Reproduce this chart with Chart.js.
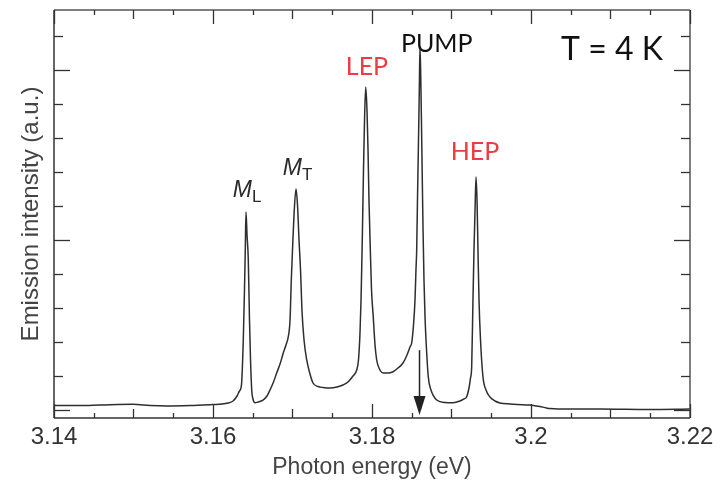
<!DOCTYPE html>
<html>
<head>
<meta charset="utf-8">
<title>Emission spectrum, T = 4 K</title>
<script src="https://cdn.jsdelivr.net/npm/chart.js@4.4.0/dist/chart.umd.min.js"></script>
<style>
  html, body { margin: 0; padding: 0; background: #fff; }
  #wrap { width: 724px; height: 481px; }
</style>
</head>
<body>
<div id="wrap"><canvas id="spectrum" width="724" height="481"></canvas></div>
<script>
// photon energy (eV) and emission intensity (a.u.)
const energy = [
  3.14000, 3.14327, 3.14579, 3.14994, 3.15208, 3.15421, 3.15711, 3.16000, 3.16113, 3.16189,
  3.16252, 3.16302, 3.16333, 3.16358, 3.16381, 3.16396, 3.16406, 3.16415, 3.16428, 3.16444,
  3.16459, 3.16472, 3.16487, 3.16503, 3.16528, 3.16566, 3.16629, 3.16679, 3.16717, 3.16761,
  3.16801, 3.16843, 3.16884, 3.16918, 3.16947, 3.16969, 3.16985, 3.17000, 3.17019, 3.17044,
  3.17063, 3.17082, 3.17101, 3.17119, 3.17145, 3.17179, 3.17220, 3.17258, 3.17321, 3.17384,
  3.17472, 3.17560, 3.17635, 3.17698, 3.17761, 3.17808, 3.17830, 3.17849, 3.17862, 3.17870,
  3.17880, 3.17893, 3.17906, 3.17921, 3.17937, 3.17950, 3.17962, 3.17979, 3.17994, 3.18016,
  3.18038, 3.18059, 3.18088, 3.18142, 3.18201, 3.18264, 3.18327, 3.18390, 3.18440, 3.18478,
  3.18499, 3.18522, 3.18541, 3.18553, 3.18562, 3.18572, 3.18585, 3.18595, 3.18604, 3.18616,
  3.18629, 3.18642, 3.18654, 3.18667, 3.18686, 3.18708, 3.18742, 3.18814, 3.18918, 3.19019,
  3.19107, 3.19157, 3.19191, 3.19220, 3.19239, 3.19254, 3.19270, 3.19283, 3.19296, 3.19308,
  3.19321, 3.19333, 3.19346, 3.19365, 3.19396, 3.19434, 3.19484, 3.19547, 3.19610, 3.19736,
  3.19824, 3.19987, 3.20050, 3.20113, 3.20176, 3.20239, 3.20491, 3.20868, 3.21497, 3.22000
];
const intensity = [
  0.132, 0.132, 0.147, 0.168, 0.132, 0.118, 0.132, 0.162, 0.176, 0.206,
  0.265, 0.412, 0.559, 0.735, 2.059, 3.529, 4.706, 5.824, 5.147, 4.412,
  2.647, 1.471, 0.588, 0.324, 0.215, 0.235, 0.294, 0.412, 0.588, 0.824,
  1.088, 1.353, 1.676, 1.912, 2.156, 2.647, 3.824, 4.706, 5.735, 6.500,
  6.029, 5.000, 4.118, 2.941, 2.059, 1.471, 1.059, 0.794, 0.691, 0.662,
  0.647, 0.676, 0.735, 0.824, 1.000, 1.176, 1.471, 2.265, 3.235, 4.118,
  5.294, 7.059, 8.529, 9.500, 8.824, 7.647, 6.176, 4.706, 3.529, 2.735,
  1.912, 1.471, 1.235, 1.088, 1.088, 1.126, 1.235, 1.382, 1.618, 1.853,
  1.971, 2.500, 3.235, 4.118, 4.706, 6.176, 7.941, 9.412, 10.706, 9.412,
  7.353, 5.294, 3.824, 2.735, 1.765, 0.971, 0.588, 0.294, 0.221, 0.215,
  0.265, 0.324, 0.391, 0.647, 0.941, 1.274, 3.235, 4.706, 5.882, 6.853,
  6.176, 4.706, 3.235, 2.059, 0.971, 0.588, 0.382, 0.265, 0.206, 0.176,
  0.162, 0.147, 0.125, 0.100, 0.070, 0.044, 0.029, 0.029, 0.015, 0.029
];

const xTickLabels = [3.14, 3.16, 3.18, 3.2, 3.22];
const xMinorStep = 0.005;
const yTickValues = [0, 1, 2, 3, 4, 5, 6, 7, 8, 9, 10, 11];
const pumpEnergy = 3.18604;

// peak labels, anchored in data units (centre x, baseline y)
const peakLabels = [
  { text: 'LEP', x: 3.17937, y: 9.85, color: '#ee3a42' },
  { text: 'PUMP', x: 3.18814, y: 10.52, color: '#111' },
  { text: 'HEP', x: 3.19296, y: 7.35, color: '#ee3a42' }
];
// mode labels, anchored at left x, baseline y
const modeLabels = [
  { main: 'M', sub: 'L', x: 3.16248, y: 6.27 },
  { main: 'M', sub: 'T', x: 3.16877, y: 6.91 }
];

const overlay = {
  id: 'overlay',
  afterDraw(chart) {
    const { ctx, chartArea: a, scales: { x, y } } = chart;
    ctx.save();
    const seg = (x1, y1, x2, y2) => { ctx.beginPath(); ctx.moveTo(x1, y1); ctx.lineTo(x2, y2); ctx.stroke(); };

    // frame
    ctx.lineWidth = 1.5;
    ctx.strokeStyle = '#555';
    seg(a.left, a.top, a.right, a.top);
    seg(a.right, a.top, a.right, a.bottom);
    ctx.strokeStyle = '#333';
    seg(a.left, a.top, a.left, a.bottom);
    seg(a.left, a.bottom, a.right, a.bottom);

    // x ticks (inside, top and bottom)
    ctx.lineWidth = 1.3;
    const n = Math.round((x.max - x.min) / xMinorStep);
    for (let i = 0; i <= n; i++) {
      const px = Math.round(x.getPixelForValue(x.min + i * xMinorStep)) + 0.5;
      const len = i % 4 === 0 ? 14 : (i % 2 === 0 ? 9 : 5);
      seg(px, a.bottom, px, a.bottom - len);
      seg(px, a.top, px, a.top + len);
    }
    // y ticks (inside, left and right)
    yTickValues.forEach(v => {
      const py = Math.round(y.getPixelForValue(v)) + 0.5;
      const len = v % 5 === 0 ? 16 : 9;
      seg(a.left, py, a.left + len, py);
      seg(a.right, py, a.right - len, py);
    });

    // pump arrow
    const ax = x.getPixelForValue(pumpEnergy) - 0.5;
    const top = y.getPixelForValue(1.76);
    const tip = y.getPixelForValue(-0.15);
    ctx.strokeStyle = '#222';
    ctx.fillStyle = '#222';
    ctx.lineWidth = 1.5;
    seg(ax, top, ax, tip - 14);
    ctx.beginPath();
    ctx.moveTo(ax - 6, tip - 19);
    ctx.lineTo(ax + 6, tip - 19);
    ctx.lineTo(ax, tip);
    ctx.closePath();
    ctx.fill();

    // peak labels
    ctx.textBaseline = 'alphabetic';
    ctx.textAlign = 'center';
    ctx.font = '25px Lato, "Open Sans", sans-serif';
    peakLabels.forEach(l => {
      ctx.fillStyle = l.color;
      ctx.fillText(l.text, x.getPixelForValue(l.x), y.getPixelForValue(l.y));
    });

    // M_L, M_T
    ctx.textAlign = 'left';
    ctx.fillStyle = '#2a2a2a';
    modeLabels.forEach(l => {
      const px = x.getPixelForValue(l.x);
      const py = y.getPixelForValue(l.y);
      ctx.font = 'italic 23px "Liberation Sans", Arial, sans-serif';
      ctx.fillText(l.main, px, py);
      const w = ctx.measureText(l.main).width;
      ctx.font = '17px "Liberation Sans", Arial, sans-serif';
      ctx.fillText(l.sub, px + w, py + 5);
    });

    // temperature
    ctx.textAlign = 'center';
    ctx.fillStyle = '#111';
    ctx.font = '32px Lato, "Open Sans", sans-serif';
    ctx.fillText('T = 4 K', a.right - 78, a.top + 50);
    ctx.restore();
  }
};

const ctx = document.getElementById('spectrum').getContext('2d');
new Chart(ctx, {
  type: 'line',
  data: {
    datasets: [{
      data: energy.map((e, i) => ({ x: e, y: intensity[i] })),
      borderColor: '#2e2e2e',
      borderWidth: 1.5,
      pointRadius: 0,
      fill: false,
      cubicInterpolationMode: 'monotone'
    }]
  },
  options: {
    responsive: false,
    animation: false,
    devicePixelRatio: 1,
    layout: { padding: { top: 10, right: 34, left: 0, bottom: 0 } },
    plugins: { legend: { display: false }, tooltip: { enabled: false } },
    scales: {
      x: {
        type: 'linear',
        min: 3.14,
        max: 3.22,
        grid: { display: false },
        border: { display: false },
        afterBuildTicks: s => { s.ticks = xTickLabels.map(v => ({ value: v })); },
        ticks: {
          callback: v => String(parseFloat(v.toFixed(2))),
          color: '#333',
          padding: -3,
          maxRotation: 0,
          autoSkip: false,
          font: { size: 24, family: '"Liberation Sans", Arial, sans-serif' }
        },
        title: {
          display: true,
          text: 'Photon energy (eV)',
          color: '#444',
          padding: { top: 0, bottom: 0 },
          font: { size: 23, family: '"Liberation Sans", Arial, sans-serif' }
        },
        afterFit: s => { s.height = 63; }
      },
      y: {
        min: -0.235,
        max: 11.765,
        grid: { display: false },
        border: { display: false },
        ticks: { display: false },
        title: {
          display: true,
          text: 'Emission intensity (a.u.)',
          color: '#444',
          padding: { top: 17, bottom: 0 },
          font: { size: 24, family: '"Liberation Sans", Arial, sans-serif' }
        },
        afterFit: s => { s.width = 54; }
      }
    }
  },
  plugins: [overlay]
});
</script>
</body>
</html>
